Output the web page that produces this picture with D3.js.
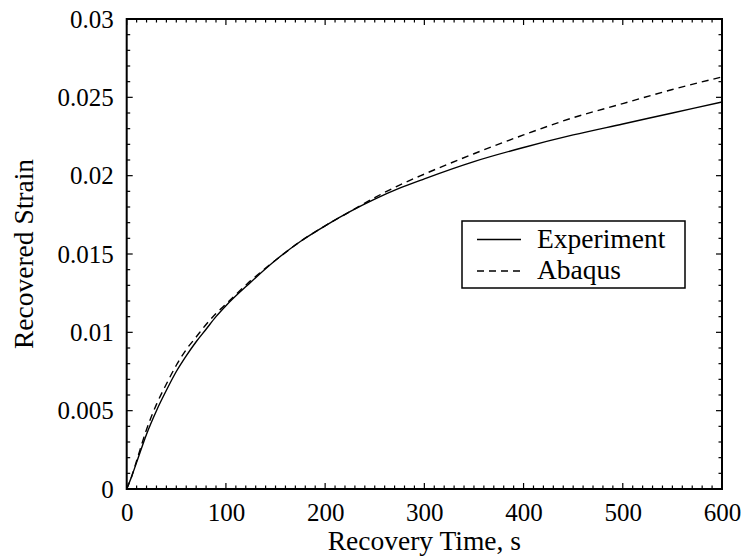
<!DOCTYPE html>
<html><head><meta charset="utf-8">
<script src="https://cdn.jsdelivr.net/npm/d3@7"></script>
<style>
body{margin:0;background:#fff;}
svg{display:block;}
text{font-family:"Liberation Serif","Times New Roman",serif;fill:#000;}
</style></head>
<body>
<script>
const times = [0,5,10,20,30,40,50,60,70,80,90,100,125,150,175,200,225,250,275,300,350,400,450,500,550,600];
const experiment = [0,0.0008,0.0017,0.0035,0.0050,0.0063,0.0075,0.0085,0.0094,0.0102,0.0110,0.0117,0.0132,0.0146,0.0158,0.0168,0.0177,0.0185,0.0192,0.0198,0.0209,0.0218,0.0226,0.0233,0.0240,0.0247];
const abaqus = [0,0.0008,0.0018,0.0038,0.0054,0.0067,0.0079,0.0089,0.0097,0.0105,0.0112,0.0118,0.0133,0.0146,0.0158,0.0168,0.0177,0.0186,0.0194,0.0201,0.0214,0.0226,0.0237,0.0246,0.0255,0.0263];
const xTicks = [0,100,200,300,400,500,600];
const yTicks = [0,0.005,0.01,0.015,0.02,0.025,0.03];
const yTickLabels = ["0","0.005","0.01","0.015","0.02","0.025","0.03"];
const seriesNames = ["Experiment","Abaqus"];

const W=742,H=560;
const L=126.7,R=722,T=19,B=489;
const FS=25, FT=27.5;
const svg=d3.select("body").append("svg").attr("width",W).attr("height",H);
const x=d3.scaleLinear().domain([0,600]).range([L,R]);
const y=d3.scaleLinear().domain([0,0.03]).range([B,T]);

const line=d3.line().x((d,i)=>x(times[i])).y(d=>y(d)).curve(d3.curveMonotoneX);
svg.append("path").datum(experiment).attr("d",line).attr("fill","none").attr("stroke","#000").attr("stroke-width",1.4);
svg.append("path").datum(abaqus).attr("d",line).attr("fill","none").attr("stroke","#000").attr("stroke-width",1.4).attr("stroke-dasharray","7,5");

// minor ticks
const xMinor=d3.range(0,601,10);
const yMinor=d3.range(0,31).map(v=>v/1000);
const g=svg.append("g").attr("stroke","#000").attr("stroke-width",1.2);
xMinor.forEach(v=>{
  const big=v%100===0, len=big?6:3.5;
  g.append("line").attr("x1",x(v)).attr("x2",x(v)).attr("y1",B).attr("y2",B-len);
  g.append("line").attr("x1",x(v)).attr("x2",x(v)).attr("y1",T).attr("y2",T+len);
});
yMinor.forEach((v,i)=>{
  const big=i%5===0, len=big?6:3.5;
  g.append("line").attr("y1",y(v)).attr("y2",y(v)).attr("x1",L).attr("x2",L+len);
  g.append("line").attr("y1",y(v)).attr("y2",y(v)).attr("x1",R).attr("x2",R-len);
});

// axes with d3 (labels only)
const xAxis=d3.axisBottom(x).tickValues(xTicks).tickSize(0).tickPadding(0).tickFormat(d3.format("d"));
const xa=svg.append("g").attr("transform",`translate(0,${B})`).call(xAxis);
xa.select(".domain").remove();
xa.selectAll("text").attr("font-size",FS).attr("font-family","Liberation Serif").attr("dy",null).attr("y",32);
const yAxis=d3.axisLeft(y).tickValues(yTicks).tickSize(0).tickPadding(0).tickFormat((d,i)=>yTickLabels[i]);
const ya=svg.append("g").attr("transform",`translate(${L},0)`).call(yAxis);
ya.select(".domain").remove();
ya.selectAll("text").attr("font-size",FS).attr("font-family","Liberation Serif").attr("x",-13).attr("dy","0.32em");

// frame
svg.append("rect").attr("x",L).attr("y",T).attr("width",R-L).attr("height",B-T).attr("fill","none").attr("stroke","#000").attr("stroke-width",2);

// axis titles
svg.append("text").attr("x",(L+R)/2).attr("y",550).attr("text-anchor","middle").attr("font-size",FT).text("Recovery Time, s");
svg.append("text").attr("transform",`translate(33,${(T+B)/2}) rotate(-90)`).attr("text-anchor","middle").attr("font-size",FT).text("Recovered Strain");

// legend
const lg=svg.append("g");
lg.append("rect").attr("x",462).attr("y",221).attr("width",223).attr("height",67).attr("fill","#fff").attr("stroke","#000").attr("stroke-width",1.5);
const rows=[{name:seriesNames[0],dash:null,yy:239.5,ty:248},{name:seriesNames[1],dash:"7,5",yy:271,ty:279}];
rows.forEach(r=>{
  lg.append("line").attr("x1",477).attr("x2",521).attr("y1",r.yy).attr("y2",r.yy).attr("stroke","#000").attr("stroke-width",1.4).attr("stroke-dasharray",r.dash);
  lg.append("text").attr("x",537).attr("y",r.ty).attr("font-size",FT).text(r.name);
});
</script>
</body></html>
